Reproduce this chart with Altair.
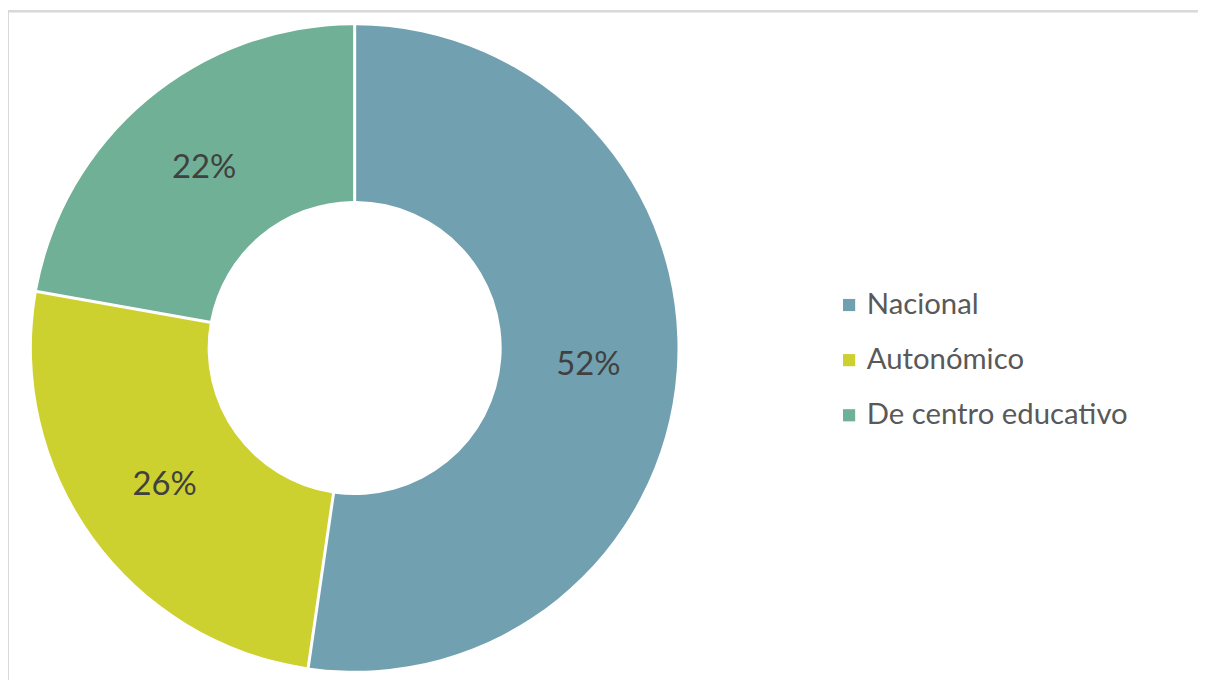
import altair as alt
import pandas as pd

categories = ["Nacional", "Autonómico", "De centro educativo"]
values = [52.3, 25.5, 22.2]
labels = ["52%", "26%", "22%"]
colors = ["#71a0b0", "#cdd12f", "#70b096"]

df = pd.DataFrame({"cat": categories, "val": values, "lab": labels, "ord": [0, 1, 2]})

W, H = 1198, 673
CX, CY = 349, 339

base = alt.Chart(df).encode(
    theta=alt.Theta("val:Q", stack=True),
    order=alt.Order("ord:Q"),
)

arcs = base.mark_arc(outerRadius=325, innerRadius=148, padAngle=0.0085).encode(
    x=alt.value(CX), y=alt.value(CY),
    color=alt.Color(
        "cat:N",
        scale=alt.Scale(domain=categories, range=colors),
        sort=categories,
        legend=alt.Legend(
            title=None, orient="none", legendX=832, legendY=281,
            symbolType="square", symbolSize=150, symbolStrokeWidth=0,
            labelFont="Lato", labelFontSize=29.5, labelColor="#595959",
            labelOffset=3, rowPadding=24.5, padding=0, labelLimit=0,
        ),
    ),
)

text = base.mark_text(radius=236, font="Lato", fontSize=33, color="#404040").encode(
    x=alt.value(CX), y=alt.value(CY), text="lab:N"
)

border_top = alt.Chart(df).mark_rule(color="#d9d9d9", strokeWidth=2).encode(
    x=alt.value(0), x2=alt.value(W), y=alt.value(0)
)
border_left = alt.Chart(df).mark_rule(color="#d9d9d9", strokeWidth=2).encode(
    x=alt.value(0), y=alt.value(0), y2=alt.value(H)
)

chart = alt.layer(border_top, border_left, arcs, text).properties(
    width=W, height=H,
    padding={"left": 0, "top": 1, "right": 0, "bottom": 0},
    autosize=alt.AutoSizeParams(type="none"),
).configure_view(stroke=None)

chart.save("out.html", embed_options={"renderer": "svg", "actions": False})
